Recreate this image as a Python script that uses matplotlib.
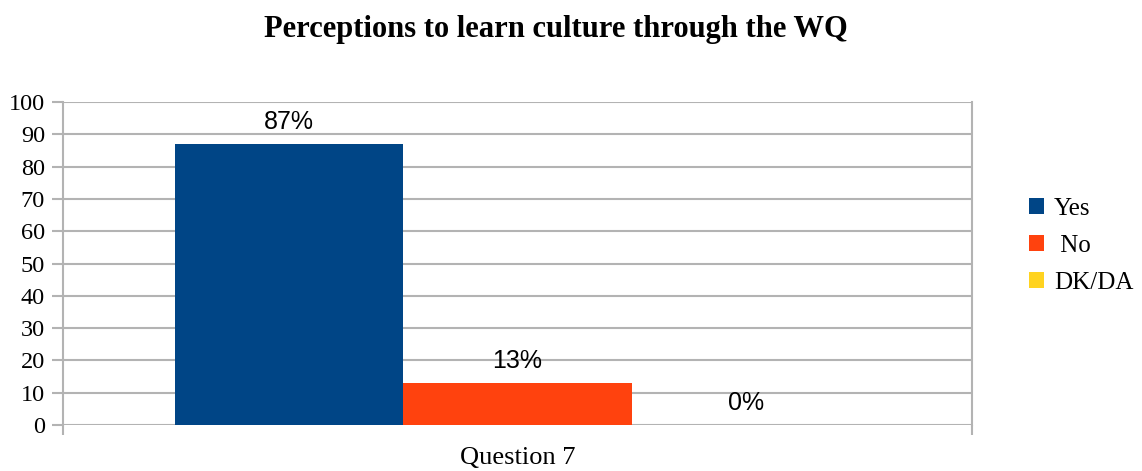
import numpy as np
import matplotlib.pyplot as plt
from matplotlib.patches import Patch

categories = ["Question 7"]
series = ["Yes", " No", "DK/DA"]
values = [87, 13, 0]
labels = ["87%", "13%", "0%"]
colors = ["#004586", "#ff420e", "#ffd320"]
yticks = list(range(0, 101, 10))

fig = plt.figure(figsize=(11.42, 4.71), dpi=100)
ax = fig.add_axes([63/1142, 1-425/471, (972-63)/1142, (425-102)/471])

w = 0.251
offsets = [-w, 0, w]
for v, lab, c, off in zip(values, labels, colors, offsets):
    ax.bar(off, v, width=w, color=c, zorder=2)
    ax.annotate(lab, (off, v), xytext=(0, 7), textcoords="offset points",
                ha="center", va="bottom", fontsize=18, family="Liberation Sans")

ax.set_xlim(-0.5, 0.5)
ax.set_ylim(0, 100)
ax.set_yticks(yticks)
ax.set_xticks([0])
ax.set_xticklabels(categories)
ax.set_xticks([-0.5, 0.5], minor=True)
ax.tick_params(axis="x", which="major", length=0, pad=16, labelsize=19)
ax.tick_params(axis="x", which="minor", length=7, color="#b3b3b3", width=1.5)
ax.tick_params(axis="y", length=8, color="#b3b3b3", width=1.5, labelsize=17.5, pad=5)
for t in ax.get_xticklabels() + ax.get_yticklabels():
    t.set_family("Liberation Serif")

ax.yaxis.grid(True, color="#b3b3b3", linewidth=1.5, zorder=0)
ax.set_axisbelow(True)
for s in ["top", "bottom"]:
    ax.spines[s].set_visible(False)
for s in ["left", "right"]:
    ax.spines[s].set_color("#b3b3b3")
    ax.spines[s].set_linewidth(1.5)

fig.text(556/1142, 1-30/471, "Perceptions to learn culture through the WQ",
         ha="center", va="center", fontsize=22, fontweight="bold",
         family="Liberation Serif")

handles = [Patch(facecolor=c) for c in colors]
fig.legend(handles, series, loc="center left", bbox_to_anchor=(1029/1142, 1-246/471),
           frameon=False, prop={"family": "Liberation Serif", "size": 18},
           borderpad=0, borderaxespad=0,
           handlelength=0.6, handleheight=0.6, handletextpad=0.4, labelspacing=0.6)

fig.savefig("out.png", dpi=100)
